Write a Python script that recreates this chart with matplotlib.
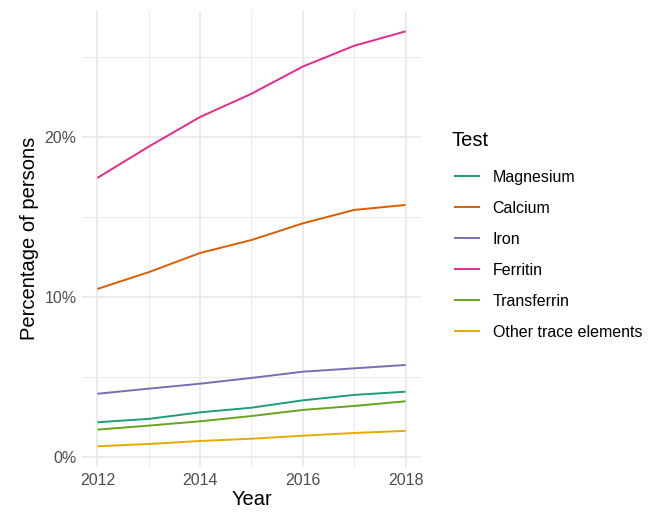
import matplotlib
matplotlib.use("Agg")
import matplotlib.pyplot as plt
from matplotlib.ticker import FixedLocator, FuncFormatter

# --- Data ---
years = [2012, 2013, 2014, 2015, 2016, 2017, 2018]
magnesium = [2.17, 2.38, 2.79, 3.08, 3.54, 3.88, 4.08]
calcium = [10.5, 11.55, 12.75, 13.56, 14.6, 15.44, 15.75]
iron = [3.95, 4.27, 4.58, 4.94, 5.33, 5.54, 5.75]
ferritin = [17.44, 19.4, 21.25, 22.7, 24.4, 25.7, 26.6]
transferrin = [1.71, 1.96, 2.23, 2.56, 2.94, 3.19, 3.48]
other_trace = [0.67, 0.81, 1.0, 1.14, 1.33, 1.5, 1.63]

series_names = ["Magnesium", "Calcium", "Iron", "Ferritin", "Transferrin", "Other trace elements"]
series_values = [magnesium, calcium, iron, ferritin, transferrin, other_trace]
colors = ["#1B9E77", "#D95F02", "#7570B3", "#E7298A", "#66A61E", "#E6AB02"]

plt.rcParams["font.family"] = ["Liberation Sans", "DejaVu Sans"]

fig = plt.figure(figsize=(6.5, 5.12), dpi=100)
ax = fig.add_axes([82 / 650, 1 - 467 / 512, (421 - 82) / 650, (467 - 10.6) / 512])

for name, vals, col in zip(series_names, series_values, colors):
    ax.plot(years, vals, color=col, linewidth=1.4, label=name, solid_capstyle="butt")

# ggplot-like expansion
ymin = min(min(v) for v in series_values)
ymax = max(max(v) for v in series_values)
pad = (ymax - ymin) * 0.05
ax.set_ylim(ymin - pad, ymax + pad)
ax.set_xlim(2012 - 0.3, 2018 + 0.3)

ax.yaxis.set_major_locator(FixedLocator([0, 10, 20]))
ax.yaxis.set_minor_locator(FixedLocator([5, 15, 25]))
ax.xaxis.set_major_locator(FixedLocator([2012, 2014, 2016, 2018]))
ax.xaxis.set_minor_locator(FixedLocator([2013, 2015, 2017]))
ax.yaxis.set_major_formatter(FuncFormatter(lambda v, p: f"{v:.0f}%"))

ax.grid(which="major", color="#EBEBEB", linewidth=1.4)
ax.grid(which="minor", color="#EBEBEB", linewidth=0.75)
ax.set_axisbelow(True)
for s in ax.spines.values():
    s.set_visible(False)
ax.tick_params(which="both", length=0, labelsize=11.5, labelcolor="#4D4D4D", pad=4)

ax.set_xlabel("Year", fontsize=14.5, color="black", labelpad=2)
ax.set_ylabel("Percentage of persons", fontsize=14.5, color="black", labelpad=4)

# legend title placed separately to match ggplot spacing
fig.text(451 / 650, 1 - 140 / 512, "Test", fontsize=14.5, va="center", ha="left")
leg = fig.legend(loc="upper left", bbox_to_anchor=(440 / 650, 1 - 155.5 / 512),
                 frameon=False, fontsize=11.5,
                 handlelength=1.6, handletextpad=0.8, labelspacing=1.0)

fig.savefig("out.png", dpi=100)
